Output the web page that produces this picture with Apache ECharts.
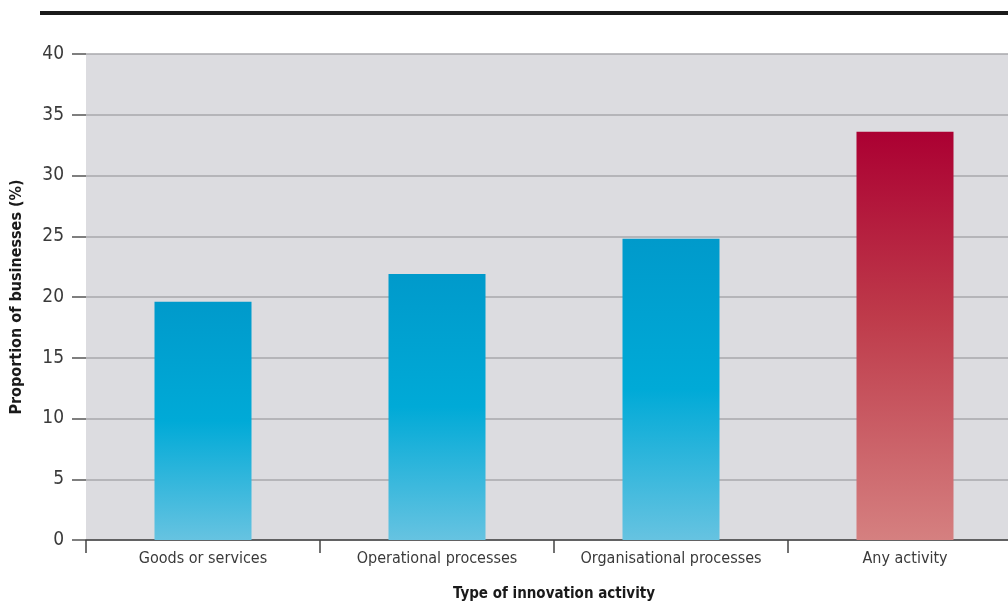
<!DOCTYPE html>
<html>
<head>
<meta charset="utf-8">
<style>
html,body{margin:0;padding:0;background:#fff;}
#chart{width:1008px;height:603px;}
</style>
<script src="https://cdn.jsdelivr.net/npm/echarts@6/dist/echarts.min.js"></script>
</head>
<body>
<div id="chart"></div>
<script>
const categories = ['Goods or services', 'Operational processes', 'Organisational processes', 'Any activity'];
const values = [19.6, 21.9, 24.8, 33.6];
const highlight = [false, false, false, true];
const yTicks = [0, 5, 10, 15, 20, 25, 30, 35, 40];

const FONT = '"DejaVu Sans Condensed", "Liberation Sans", Arial, sans-serif';

function blueGrad() {
  return new echarts.graphic.LinearGradient(0, 0, 0, 1, [
    {offset: 0, color: '#009acb'},
    {offset: 0.5, color: '#00aad7'},
    {offset: 1, color: '#66c3e1'}
  ]);
}
function redGrad() {
  return new echarts.graphic.LinearGradient(0, 0, 0, 1, [
    {offset: 0, color: '#ab0032'},
    {offset: 0.45, color: '#be3a4a'},
    {offset: 1, color: '#d58080'}
  ]);
}

const chart = echarts.init(document.getElementById('chart'), null, {renderer: 'canvas'});
chart.setOption({
  animation: false,
  backgroundColor: '#ffffff',
  textStyle: {fontFamily: FONT},
  grid: {
    show: true,
    left: 86, top: 54, width: 936, height: 486,
    containLabel: false,
    outerBoundsMode: 'none',
    backgroundColor: '#dcdce0',
    borderWidth: 0
  },
  graphic: [{
    type: 'rect',
    shape: {x: 40, y: 11, width: 980, height: 4},
    style: {fill: '#1a1a1a'},
    silent: true
  }],
  xAxis: {
    type: 'category',
    data: categories,
    name: 'Type of innovation activity',
    nameLocation: 'middle',
    nameGap: 47,
    nameTextStyle: {fontFamily: FONT, fontWeight: 'bold', fontSize: 15, color: '#1a1a1a'},
    axisLine: {show: true, lineStyle: {color: '#444', width: 1.5}},
    axisTick: {show: true, alignWithLabel: false, length: 13, lineStyle: {color: '#444', width: 1.5}},
    axisLabel: {fontFamily: FONT, fontSize: 16, color: '#3a3a3a', margin: 11, interval: 0},
    splitLine: {show: false}
  },
  yAxis: {
    type: 'value',
    min: 0, max: 40, interval: 5,
    name: 'Proportion of businesses (%)',
    nameLocation: 'middle',
    nameRotate: 90,
    nameGap: 61,
    nameTextStyle: {fontFamily: FONT, fontWeight: 'bold', fontSize: 16, color: '#1a1a1a'},
    axisLine: {show: false},
    axisTick: {show: true, length: 14, lineStyle: {color: '#555', width: 1.5}},
    axisLabel: {
      fontFamily: FONT, fontSize: 19, color: '#3a3a3a', margin: 22,
      formatter: v => yTicks.includes(v) ? String(v) : ''
    },
    splitLine: {show: true, lineStyle: {color: '#a8a8ac', width: 1.5}}
  },
  series: [{
    type: 'bar',
    barWidth: 97,
    data: values.map((v, i) => ({
      value: v,
      itemStyle: {color: highlight[i] ? redGrad() : blueGrad()}
    }))
  }]
});
</script>
</body>
</html>
